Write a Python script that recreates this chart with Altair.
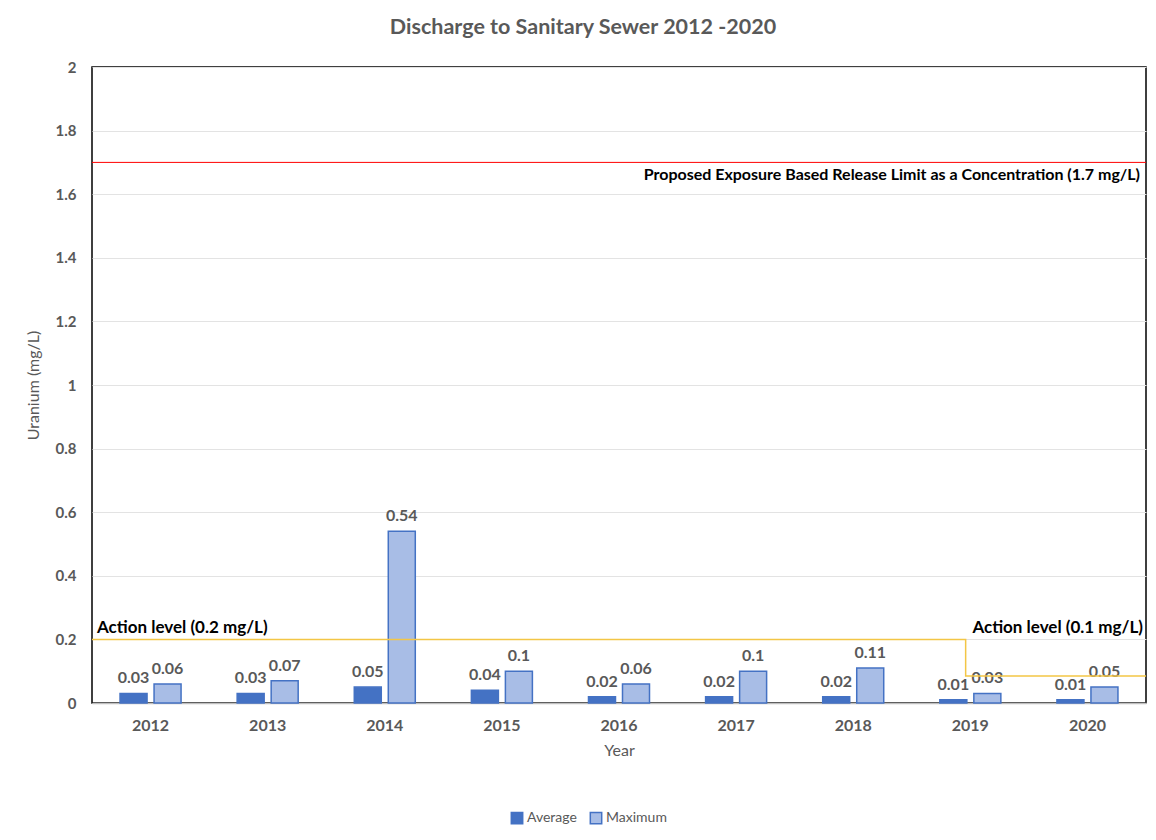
import altair as alt
import pandas as pd

# ---- data ----
years = ["2012", "2013", "2014", "2015", "2016", "2017", "2018", "2019", "2020"]
average = [0.03, 0.03, 0.05, 0.04, 0.02, 0.02, 0.02, 0.01, 0.01]
maximum = [0.06, 0.07, 0.54, 0.10, 0.06, 0.10, 0.11, 0.03, 0.05]
series = ["Average", "Maximum"]
y_ticks = [0, 0.1, 0.2, 0.3, 0.4, 0.5, 0.6, 0.7, 0.8, 0.9, 1.0,
           1.1, 1.2, 1.3, 1.4, 1.5, 1.6, 1.7, 1.8, 1.9, 2.0]

limit_value = [1.7]
limit_label = ["Proposed Exposure Based Release Limit as a Concentration (1.7 mg/L)"]
action_pos = [0, 7.46, 7.46, 9]      # in category units (0..9 across the plot)
action_val = [0.2, 0.2, 0.085, 0.085]
action_left_label = ["Action level (0.2 mg/L)"]
action_right_label = ["Action level (0.1 mg/L)"]

FONT = "Lato"
GREY = "#595959"
BLUE = "#4472C4"
HATCH = "#a8bde6"

bars_df = pd.DataFrame({
    "Year": years * 2,
    "Series": ["Average"] * len(years) + ["Maximum"] * len(years),
    "Value": average + maximum,
})

x_enc = alt.X("Year:N", sort=years,
              scale=alt.Scale(paddingInner=0.479, paddingOuter=0.2395),
              axis=alt.Axis(title="Year", labelAngle=0, labelFont=FONT, labelFontSize=16,
                            labelFontWeight="bold", labelColor=GREY, labelPadding=14,
                            ticks=False, domainColor="#bfbfbf", domainWidth=1.5,
                            titleFont=FONT, titleFontSize=16, titleFontWeight="normal",
                            titleColor=GREY, titlePadding=9))
xoff_enc = alt.XOffset("Series:N", sort=series,
                       scale=alt.Scale(paddingInner=0.206, paddingOuter=0))
y_enc = alt.Y("Value:Q", scale=alt.Scale(domain=[0, 2], nice=False),
              axis=alt.Axis(values=y_ticks,
                            labelExpr="(round(datum.value*10) % 2 == 0) ? format(datum.value, '~g') : ''",
                            title="Uranium (mg/L)", grid=True, gridColor="#e3e3e3",
                            domain=False, ticks=False, labelFont=FONT, labelFontSize=15,
                            labelFontWeight="bold", labelColor=GREY, labelPadding=16,
                            titleFont=FONT, titleFontSize=16, titleFontWeight="normal",
                            titleColor=GREY, titlePadding=14))

legend = alt.Legend(title=None, orient="none", direction="horizontal",
                    legendX=418, legendY=744, symbolType="square",
                    symbolSize=130, labelFont=FONT, labelFontSize=14,
                    labelColor=GREY, columnPadding=10, labelOffset=3)

bars = alt.Chart(bars_df).mark_bar(strokeWidth=1.5).encode(
    x=x_enc,
    xOffset=xoff_enc,
    y=y_enc,
    color=alt.Color("Series:N", sort=series,
                    scale=alt.Scale(domain=series, range=[BLUE, HATCH]), legend=legend),
    stroke=alt.Stroke("Series:N", sort=series,
                      scale=alt.Scale(domain=series, range=[BLUE, BLUE]), legend=legend),
)

labels = alt.Chart(bars_df).mark_text(
    baseline="bottom", dy=-7, font=FONT, fontSize=16, fontWeight="bold", color=GREY
).encode(
    x=alt.X("Year:N", sort=years),
    xOffset=alt.XOffset("Series:N", sort=series),
    y=alt.Y("Value:Q"),
    text=alt.Text("Value:Q", format="~g"),
)

pos_scale = alt.Scale(domain=[0, 9], nice=False, zero=False)

limit_df = pd.DataFrame({"Pos": [9], "Value": limit_value, "Label": limit_label})
limit_rule = alt.Chart(limit_df).mark_rule(color="#ff0000", strokeWidth=1).encode(
    y=alt.Y("Value:Q"))
limit_text = alt.Chart(limit_df).mark_text(
    align="right", baseline="top", dx=-6, dy=5, font=FONT, fontSize=16,
    fontWeight="bold", color="black"
).encode(x=alt.X("Pos:Q", scale=pos_scale, axis=None), y=alt.Y("Value:Q"), text="Label:N")

action_df = pd.DataFrame({"Pos": action_pos, "Value": action_val,
                          "Order": list(range(len(action_pos)))})
action_line = alt.Chart(action_df).mark_line(color="#f3c646", strokeWidth=1.5).encode(
    x=alt.X("Pos:Q", scale=pos_scale, axis=None), y=alt.Y("Value:Q"), order="Order:Q")

left_df = pd.DataFrame({"Pos": [0], "Value": [0.2], "Label": action_left_label})
right_df = pd.DataFrame({"Pos": [9], "Value": [0.2], "Label": action_right_label})
left_text = alt.Chart(left_df).mark_text(
    align="left", baseline="bottom", dx=5, dy=-2, font=FONT, fontSize=17,
    fontWeight="bold", color="black"
).encode(x=alt.X("Pos:Q", scale=pos_scale, axis=None), y=alt.Y("Value:Q"), text="Label:N")
right_text = alt.Chart(right_df).mark_text(
    align="right", baseline="bottom", dx=-3, dy=-2, font=FONT, fontSize=17,
    fontWeight="bold", color="black"
).encode(x=alt.X("Pos:Q", scale=pos_scale, axis=None), y=alt.Y("Value:Q"), text="Label:N")

bar_layer = alt.layer(bars, labels)
annot_layer = alt.layer(limit_rule, limit_text, action_line, left_text, right_text)

chart = alt.layer(bar_layer, annot_layer).resolve_scale(x="independent").properties(
    width=1054, height=636,
    title=alt.TitleParams("Discharge to Sanitary Sewer 2012 -2020", fontSize=21.5,
                          color=GREY, font=FONT, fontWeight="bold", anchor="middle",
                          frame="group", dx=-36, offset=22),
    autosize=alt.AutoSizeParams(type="none"),
    padding={"left": 84, "top": 59, "right": 2, "bottom": 130},
).configure(background="white").configure_view(stroke="black", strokeWidth=1.5)

chart.save("out.html", embed_options={"renderer": "svg", "actions": False})
